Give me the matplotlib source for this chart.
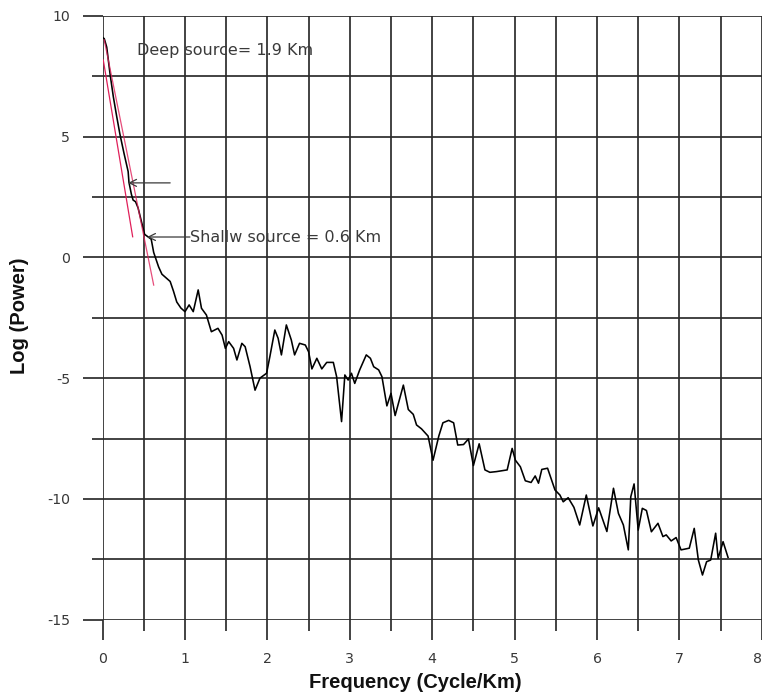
import matplotlib
matplotlib.use("Agg")
import matplotlib.pyplot as plt
from matplotlib.ticker import MultipleLocator

plt.rcParams["axes.unicode_minus"] = False

# ---- data ----
freq = [0.00, 0.02, 0.05, 0.09, 0.13, 0.17, 0.21, 0.26, 0.31, 0.32, 0.35, 0.37, 0.40, 0.43,
        0.47, 0.51, 0.55, 0.59, 0.62, 0.65, 0.68, 0.72, 0.77, 0.82, 0.86, 0.90, 0.95, 1.00,
        1.05, 1.10, 1.16, 1.20, 1.26, 1.32, 1.40, 1.45, 1.49, 1.53, 1.59, 1.63, 1.69, 1.73,
        1.79, 1.85, 1.91, 1.99, 2.03, 2.09, 2.13, 2.17, 2.23, 2.29, 2.33, 2.39, 2.46, 2.50,
        2.54, 2.60, 2.66, 2.72, 2.80, 2.84, 2.90, 2.94, 2.98, 3.02, 3.06, 3.12, 3.20, 3.25,
        3.29, 3.35, 3.39, 3.45, 3.50, 3.55, 3.65, 3.71, 3.77, 3.81, 3.87, 3.95, 4.01, 4.08,
        4.13, 4.20, 4.26, 4.31, 4.38, 4.44, 4.50, 4.57, 4.64, 4.70, 4.78, 4.91, 4.97, 5.01,
        5.07, 5.13, 5.20, 5.25, 5.29, 5.33, 5.40, 5.49, 5.55, 5.59, 5.65, 5.72, 5.79, 5.87,
        5.95, 6.02, 6.12, 6.20, 6.26, 6.32, 6.38, 6.41, 6.45, 6.50, 6.55, 6.60, 6.66, 6.74,
        6.80, 6.84, 6.90, 6.96, 7.02, 7.12, 7.18, 7.23, 7.28, 7.33, 7.38, 7.44, 7.47, 7.53,
        7.59]
log_power = [9.10, 9.05, 8.70, 7.60, 6.65, 5.85, 5.10, 4.30, 3.55, 3.10, 2.60, 2.37, 2.30, 2.05,
             1.50, 0.95, 0.85, 0.75, 0.20, -0.10, -0.40, -0.70, -0.85, -1.00, -1.40, -1.85, -2.10, -2.25,
             -1.97, -2.25, -1.35, -2.11, -2.39, -3.08, -2.94, -3.22, -3.77, -3.49, -3.77, -4.25, -3.56, -3.70,
             -4.53, -5.50, -5.00, -4.80, -4.11, -3.01, -3.35, -4.04, -2.80, -3.42, -4.04, -3.56, -3.63, -3.91,
             -4.62, -4.18, -4.62, -4.35, -4.35, -4.94, -6.80, -4.87, -5.08, -4.80, -5.22, -4.66, -4.04, -4.18,
             -4.53, -4.66, -4.94, -6.15, -5.63, -6.55, -5.29, -6.30, -6.50, -6.94, -7.10, -7.40, -8.40, -7.40,
             -6.85, -6.75, -6.85, -7.77, -7.75, -7.52, -8.62, -7.72, -8.80, -8.90, -8.87, -8.80, -7.91, -8.40,
             -8.67, -9.25, -9.32, -9.05, -9.35, -8.78, -8.73, -9.63, -9.84, -10.12, -9.95, -10.35, -11.08, -9.84,
             -11.12, -10.37, -11.35, -9.56, -10.60, -11.08, -12.11, -9.91, -9.38, -11.29, -10.39, -10.48, -11.36, -11.01,
             -11.56, -11.49, -11.74, -11.60, -12.11, -12.04, -11.22, -12.53, -13.15, -12.60, -12.53, -11.42, -12.46, -11.77,
             -12.42]

# fitted red lines (end points)
deep_fit_x = [0.008, 0.365]
deep_fit_y = [8.17, 0.85]
shallow_fit_x = [0.02, 0.62]
shallow_fit_y = [9.00, -1.15]

x_ticks = [0, 1, 2, 3, 4, 5, 6, 7, 8]
y_ticks = [-15, -10, -5, 0, 5, 10]

deep_label = "Deep source= 1.9 Km"
shallow_label = "Shallw source = 0.6 Km"

# ---- figure ----
W, H = 762, 694
fig = plt.figure(figsize=(W / 100, H / 100), dpi=100)
left, right = 102.6 / W, 761.8 / W
top, bottom = 15.7, 619.7
ax = fig.add_axes([left, (H - bottom) / H, right - left, (bottom - top) / H])

grid_c = "#2b2b2b"
ax.set_xlim(0, 8)
ax.set_ylim(-15, 10)
ax.xaxis.set_minor_locator(MultipleLocator(0.5))
ax.yaxis.set_minor_locator(MultipleLocator(2.5))
ax.set_xticks(x_ticks)
ax.set_yticks(y_ticks)
ax.grid(True, which="both", color=grid_c, lw=1.25)
ax.set_axisbelow(True)
for s in ax.spines.values():
    s.set_visible(False)
ax.tick_params(which="major", direction="out", length=14.4, width=1.25, color=grid_c,
               labelsize=10.2, labelcolor="#383838", pad=9)
ax.tick_params(which="minor", direction="out", length=7.6, width=1.25, color=grid_c)
xlabs = ax.get_xticklabels()
for lab in xlabs + ax.get_yticklabels():
    lab.set_family("DejaVu Sans")
xlabs[-1].set_horizontalalignment("right")

# data curve
ax.plot(freq, log_power, color="black", lw=1.15, zorder=3)

# red fit lines
ax.plot(deep_fit_x, deep_fit_y, color="#e0205a", lw=0.9, zorder=4)
ax.plot(shallow_fit_x, shallow_fit_y, color="#e0205a", lw=0.9, zorder=4, alpha=0.8)

# annotations
txt_c = "#3a3a3a"
ax.text(0.42, 8.58, deep_label, fontsize=11.5, family="DejaVu Sans", color=txt_c,
        va="center", ha="left", zorder=5)
ax.text(1.06, 0.84, shallow_label, fontsize=11.5, family="DejaVu Sans", color=txt_c,
        va="center", ha="left", zorder=5)
arrow_kw = dict(arrowstyle="->,head_length=0.5,head_width=0.25", color=txt_c, lw=0.9,
                shrinkA=0, shrinkB=0)
ax.annotate("", xy=(0.31, 3.08), xytext=(0.82, 3.08), arrowprops=arrow_kw, zorder=5)
ax.annotate("", xy=(0.54, 0.84), xytext=(1.06, 0.84), arrowprops=arrow_kw, zorder=5)

# axis labels
fig.text(415.5 / W, (H - 682) / H, "Frequency (Cycle/Km)", family="Liberation Sans",
         fontweight="bold", fontsize=14.5, color="#111111", ha="center", va="center")
fig.text(20 / W, (H - 316) / H, "Log (Power)", family="Liberation Sans",
         fontweight="bold", fontsize=14.5, color="#111111", ha="center", va="center",
         rotation=90)

fig.savefig("out.png", dpi=100)
